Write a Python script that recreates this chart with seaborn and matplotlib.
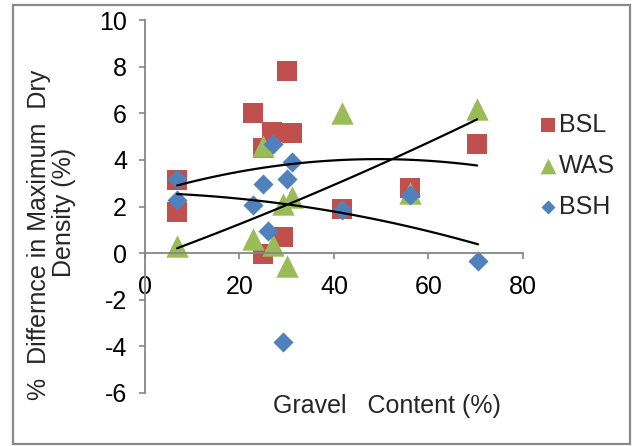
import matplotlib
matplotlib.use("Agg")
import matplotlib.pyplot as plt
import numpy as np
import pandas as pd
import seaborn as sns
from matplotlib.patches import Rectangle

# ---- data ----
bsl_x = [6.8, 6.8, 22.9, 25.0, 25.0, 26.9, 29.2, 30.1, 31.1, 41.7, 56.1, 70.3]
bsl_y = [3.15, 1.75, 6.0, 4.5, -0.05, 5.2, 0.7, 7.8, 5.15, 1.9, 2.8, 4.7]
was_x = [6.8, 22.9, 25.0, 27.0, 29.2, 30.1, 31.1, 41.7, 56.1, 70.3]
was_y = [0.3, 0.6, 4.6, 0.35, 2.1, -0.55, 2.4, 6.0, 2.6, 6.2]
bsh_x = [6.8, 6.8, 22.9, 25.0, 26.0, 27.0, 29.2, 30.0, 31.1, 41.7, 56.1, 70.5]
bsh_y = [3.2, 2.3, 2.05, 2.95, 0.95, 4.7, -3.8, 3.2, 3.9, 1.85, 2.5, -0.35]
series_names = ["BSL", "WAS", "BSH"]
x_ticks = [0, 20, 40, 60, 80]
y_ticks = [-6, -4, -2, 0, 2, 4, 6, 8, 10]

colors = {"BSL": "#C0504D", "WAS": "#9BBB59", "BSH": "#4F81BD"}
markers = {"BSL": "s", "WAS": "^", "BSH": "D"}
msize = {"BSL": 200, "WAS": 260, "BSH": 105}

df = pd.concat([
    pd.DataFrame({"x": bsl_x, "y": bsl_y, "series": "BSL"}),
    pd.DataFrame({"x": was_x, "y": was_y, "series": "WAS"}),
    pd.DataFrame({"x": bsh_x, "y": bsh_y, "series": "BSH"}),
], ignore_index=True)

sns.set_style("white")
plt.rcParams["font.family"] = ["Liberation Sans", "DejaVu Sans"]
FS = 18

fig = plt.figure(figsize=(6.33, 4.46), dpi=100)
ax = fig.add_axes([145 / 633, 1 - 393 / 446, 378 / 633, 373 / 446])

for name in series_names:
    sub = df[df["series"] == name]
    sns.scatterplot(data=sub, x="x", y="y", ax=ax, color=colors[name],
                    marker=markers[name], s=msize[name], linewidth=0,
                    label=name, zorder=2)

for name in series_names:
    sub = df[df["series"] == name]
    sns.regplot(data=sub, x="x", y="y", ax=ax, order=2, ci=None,
                scatter=False, truncate=True,
                line_kws={"color": "black", "lw": 1.6, "zorder": 3})

for s in ["top", "right"]:
    ax.spines[s].set_visible(False)
ax.spines["bottom"].set_position(("data", 0))
for s in ["left", "bottom"]:
    ax.spines[s].set_color("#868686")
    ax.spines[s].set_linewidth(1.3)

ax.set_xlim(0, 80)
ax.set_ylim(-6, 10)
ax.set_xticks(x_ticks)
ax.set_yticks(y_ticks)
ax.set_xticklabels([str(t) for t in x_ticks])
ax.set_yticklabels([str(t) for t in y_ticks])
ax.tick_params(axis="both", which="major", direction="out", length=4,
               width=1.2, color="#868686", labelcolor="black", labelsize=FS)
ax.tick_params(axis="x", pad=12)
ax.tick_params(axis="y", pad=9)
ax.xaxis.set_ticks_position("bottom")
ax.yaxis.set_ticks_position("left")

ax.set_xlabel("Gravel   Content (%)", fontsize=FS, va="center")
ax.xaxis.set_label_coords((387 - 145) / 378, (393 - 406) / 373)
ax.set_ylabel("%  Differnce in Maximum  Dry", fontsize=FS, va="center")
ax.yaxis.set_label_coords((39 - 145) / 378, (393 - 235) / 373)
ax.text((64 - 145) / 378, (393 - 212) / 373, "Density (%)", fontsize=FS,
        rotation=90, ha="center", va="center", transform=ax.transAxes)

handles, labels = ax.get_legend_handles_labels()
leg = ax.legend(handles, labels, loc="center left",
                bbox_to_anchor=(538 / 633, 1 - 166 / 446),
                bbox_transform=fig.transFigure, frameon=False, fontsize=FS,
                markerscale=0.7, handletextpad=0.05, handlelength=0.8,
                labelspacing=0.68, borderaxespad=0, borderpad=0)

fig.patches.append(Rectangle((13 / 633, 2 / 446), 617 / 633, 439 / 446,
                             transform=fig.transFigure, fill=False,
                             edgecolor="#898989", linewidth=1.6, zorder=10))

fig.savefig("out.png", dpi=100)
